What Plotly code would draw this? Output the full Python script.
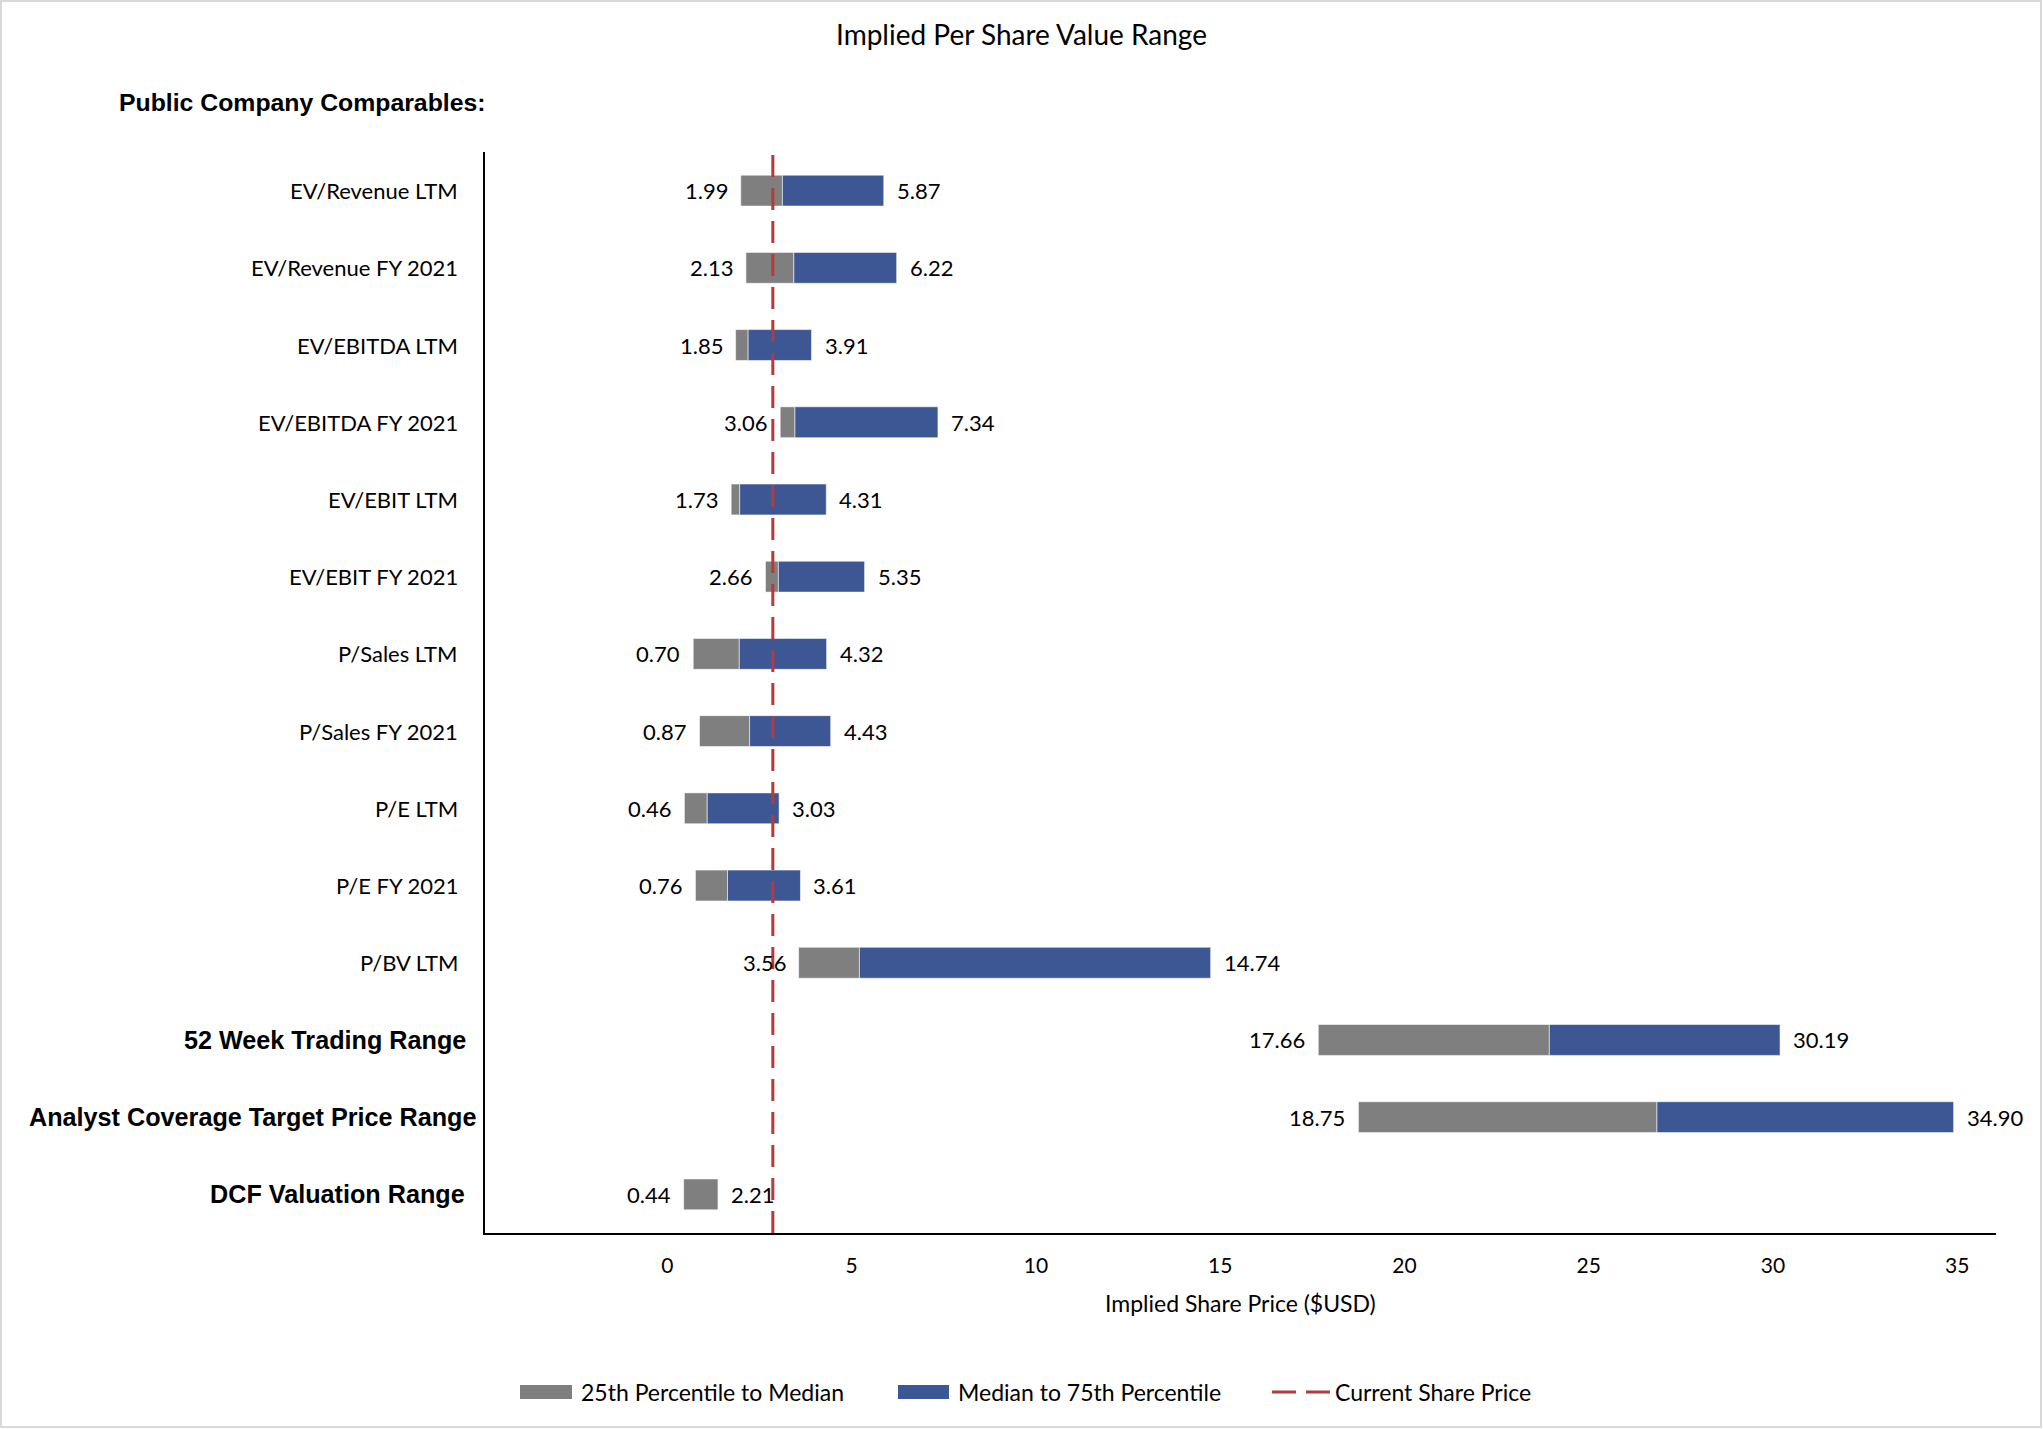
import plotly.graph_objects as go

# ---------------- data ----------------
categories = [
    "EV/Revenue LTM", "EV/Revenue FY 2021", "EV/EBITDA LTM", "EV/EBITDA FY 2021",
    "EV/EBIT LTM", "EV/EBIT FY 2021", "P/Sales LTM", "P/Sales FY 2021",
    "P/E LTM", "P/E FY 2021", "P/BV LTM",
    "52 Week Trading Range", "Analyst Coverage Target Price Range", "DCF Valuation Range",
]
bold_category = [False] * 11 + [True, True, True]
low_values = [1.99, 2.13, 1.85, 3.06, 1.73, 2.66, 0.70, 0.87, 0.46, 0.76, 3.56, 17.66, 18.75, 0.44]
median_values = [3.12, 3.43, 2.19, 3.46, 1.96, 3.01, 1.95, 2.23, 1.08, 1.63, 5.21, 23.93, 26.85, 1.38]
high_values = [5.87, 6.22, 3.91, 7.34, 4.31, 5.35, 4.32, 4.43, 3.03, 3.61, 14.74, 30.19, 34.90, 2.21]
blue_shown = [True] * 13 + [False]
current_share_price = 2.86
x_ticks = [0, 5, 10, 15, 20, 25, 30, 35]

GRAY = "#7F7F7F"
BLUE = "#3D5694"
RED = "#B43B3B"
CAL = "Lato"
ARIAL = "Liberation Sans, Arial"

W, H = 2043, 1429
L, R, T, B = 485, 47, 152, 196
PW, PH = W - L - R, H - T - B


def px_x(p):
    return (p - L) / PW


def px_y(p):
    return (H - B - p) / PH


fig = go.Figure()

gray_w = [m - lo for lo, m in zip(low_values, median_values)]
blue_w = [(h - m) if s else 0 for m, h, s in zip(median_values, high_values, blue_shown)]

fig.add_trace(go.Bar(
    y=categories, x=gray_w, base=low_values, orientation="h",
    marker=dict(color=GRAY, line=dict(color="rgba(255,255,255,0.55)", width=1)),
    width=0.4, name="25th Percentile to Median", showlegend=False, hoverinfo="skip",
))
fig.add_trace(go.Bar(
    y=categories, x=blue_w, base=median_values, orientation="h",
    marker=dict(color=BLUE, line=dict(color="rgba(255,255,255,0.55)", width=1)),
    width=0.4, name="Median to 75th Percentile", showlegend=False, hoverinfo="skip",
))

annotations = []
# value labels
for cat, lo, m, h, s in zip(categories, low_values, median_values, high_values, blue_shown):
    end = h if s else m
    annotations.append(dict(x=lo, y=cat, xref="x", yref="y", text=f"{lo:.2f}",
                            showarrow=False, xanchor="right", xshift=-11,
                            font=dict(family=CAL, size=22, color="black")))
    annotations.append(dict(x=end, y=cat, xref="x", yref="y", text=f"{h:.2f}",
                            showarrow=False, xanchor="left", xshift=11,
                            font=dict(family=CAL, size=22, color="black")))

# category labels
bold_shift = {"52 Week Trading Range": -17,
              "Analyst Coverage Target Price Range": -7,
              "DCF Valuation Range": -18}
for cat, b in zip(categories, bold_category):
    if b:
        annotations.append(dict(x=0, y=cat, xref="paper", yref="y", text=f"<b>{cat}</b>",
                                showarrow=False, xanchor="right", xshift=bold_shift.get(cat, -18),
                                font=dict(family=ARIAL, size=25.2, color="black")))
    else:
        annotations.append(dict(x=0, y=cat, xref="paper", yref="y", text=cat,
                                showarrow=False, xanchor="right", xshift=-25,
                                font=dict(family=CAL, size=22, color="black")))

annotations.append(dict(x=px_x(117), y=px_y(102), xref="paper", yref="paper",
                        text="<b>Public Company Comparables:</b>", showarrow=False,
                        xanchor="left", yanchor="middle",
                        font=dict(family=ARIAL, size=24.8, color="black")))

annotations.append(dict(x=0.5, y=px_y(1303), xref="paper", yref="paper",
                        text="Implied Share Price ($USD)", showarrow=False,
                        xanchor="center", yanchor="middle",
                        font=dict(family=CAL, size=23, color="black")))

# custom legend
leg_y = 1392
legend_items = [
    ("rect", GRAY, 520, 572, 579, "25th Percentile to Median"),
    ("rect", BLUE, 898, 949, 956, "Median to 75th Percentile"),
    ("line", RED, 1272, 1330, 1333, "Current Share Price"),
]
shapes = []
for kind, col, x0, x1, tx, label in legend_items:
    if kind == "rect":
        shapes.append(dict(type="rect", xref="paper", yref="paper",
                           x0=px_x(x0), x1=px_x(x1), y0=px_y(leg_y + 7), y1=px_y(leg_y - 7),
                           fillcolor=col, line=dict(width=0)))
    else:
        shapes.append(dict(type="line", xref="paper", yref="paper",
                           x0=px_x(x0), x1=px_x(x1), y0=px_y(leg_y), y1=px_y(leg_y),
                           line=dict(color=col, width=3, dash="24px,10px")))
    annotations.append(dict(x=px_x(tx), y=px_y(leg_y), xref="paper", yref="paper",
                            text=label, showarrow=False, xanchor="left", yanchor="middle",
                            font=dict(family=CAL, size=23, color="black")))

# current share price line
shapes.append(dict(type="line", xref="x", yref="paper", x0=current_share_price,
                   x1=current_share_price, y0=0, y1=1,
                   line=dict(color=RED, width=3, dash="22px,11px")))

# chart border
shapes.append(dict(type="rect", xref="paper", yref="paper",
                   x0=px_x(1), x1=px_x(W - 2), y0=px_y(H - 2), y1=px_y(1),
                   line=dict(color="#D9D9D9", width=2), fillcolor="rgba(0,0,0,0)", layer="below"))

fig.update_layout(
    width=W, height=H, autosize=False,
    margin=dict(l=L, r=R, t=T, b=B),
    paper_bgcolor="white", plot_bgcolor="white",
    barmode="overlay",
    title=dict(text="Implied Per Share Value Range", x=0.5, xref="container", xanchor="center",
               y=1 - 35 / H, yref="container", yanchor="middle",
               font=dict(family=CAL, size=28, color="black")),
    xaxis=dict(range=[-4.95, 36.05], tickvals=x_ticks, ticktext=[str(v) for v in x_ticks],
               showgrid=False, zeroline=False, showline=True, linecolor="black", linewidth=2,
               ticks="", ticklabelstandoff=13, tickfont=dict(family=CAL, size=21, color="black")),
    yaxis=dict(categoryorder="array", categoryarray=categories, range=[13.5, -0.5],
               showticklabels=False, showgrid=False, zeroline=False, showline=True,
               linecolor="black", linewidth=1.5, ticks=""),
    annotations=annotations,
    shapes=shapes,
    showlegend=False,
)

fig.write_html("out.html")
